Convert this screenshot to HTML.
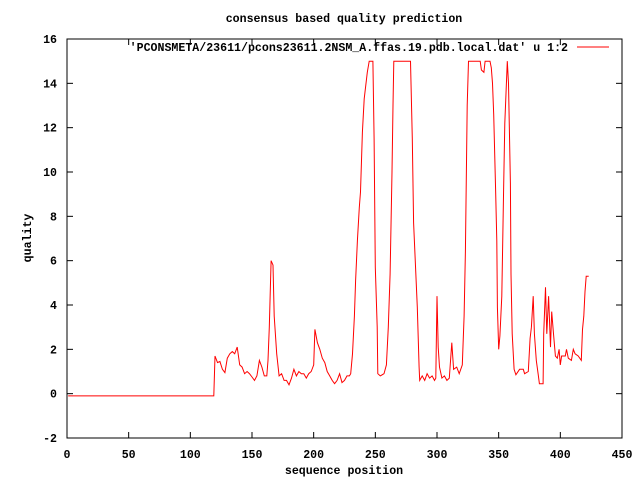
<!DOCTYPE html>
<html><head><meta charset="utf-8"><style>
body{margin:0;background:#fff;}
svg{display:block;font-family:"Liberation Mono",monospace;font-weight:bold;font-size:11.6px;}
</style></head><body>
<svg id="chart" width="640" height="480" viewBox="0 0 640 480" xmlns="http://www.w3.org/2000/svg">
<rect width="640" height="480" fill="#fff"/>
<text x="344" y="22" text-anchor="middle">consensus based quality prediction</text>
<text x="344" y="474" text-anchor="middle">sequence position</text>
<text x="0" y="0" text-anchor="middle" transform="translate(31,238) rotate(-90)">quality</text>
<g id="axes"></g>
<rect x="67" y="39" width="555" height="399" fill="none" stroke="#000" stroke-width="1"/>
<g id="series"></g>
<text x="568" y="51" text-anchor="end">'PCONSMETA/23611/pcons23611.2NSM_A.ffas.19.pdb.local.dat' u 1:2</text>
<line x1="577" y1="47" x2="609" y2="47" stroke="#f00" stroke-width="1"/>
</svg>
<script>
const xTicks=[0,50,100,150,200,250,300,350,400,450];
const yTicks=[-2,0,2,4,6,8,10,12,14,16];
const seqX=[1,119,120,122,124,126,128,130,132,134,136,138,140,142,144,146,148,150,152,154,156,158,160,162,163,164,165.5,167,168,170,172,174,176,178,180,182,184,186,188,190,192,194,196,198,200,201,203,205,207,209,211,213,215,217,219,221,223,225,227,229,230,231.5,233,234,235.5,237,238,239.5,241,243.5,245,248,249,250,251.5,252,254,257,259,260.5,262,263.5,264.3,265,278.5,280,281,284,285.5,286,288,290,292,294,296,298,299,300,301,302,304,306,308,310,312,313.5,316,318,320.5,322,323,324.5,325.5,335,336,338,339,343,344,345,346,347.5,348.5,349,350,351,352.5,354,355,357,358,359.5,360,361,362.5,364,367,370,371,374,375.5,376.5,378,379,380.5,382,383,386,386.5,388,389,390.5,392,393,394.5,396,397.5,399,400,401,404,405,406.5,409,410.5,412,414.5,417,418,419,420,421,423];
const seqY=[-0.1,-0.1,1.7,1.4,1.45,1.1,0.95,1.6,1.8,1.9,1.8,2.1,1.3,1.2,0.9,1.0,0.9,0.75,0.6,0.8,1.5,1.2,0.8,0.8,1.5,3.0,6.0,5.8,3.5,1.8,0.8,0.9,0.6,0.6,0.4,0.7,1.1,0.8,1.0,0.9,0.9,0.7,0.9,1.0,1.3,2.9,2.3,2.0,1.6,1.4,1.0,0.8,0.6,0.45,0.6,0.9,0.5,0.6,0.8,0.8,0.9,1.8,3.5,5.1,6.9,8.4,9.1,11.8,13.3,14.5,15,15,11.5,5.7,3.0,0.9,0.8,0.9,1.3,3.0,5.4,10,13,15,15,11.5,7.7,3.9,1.2,0.6,0.8,0.6,0.9,0.7,0.8,0.6,0.7,4.4,2.1,1.2,0.7,0.8,0.6,0.7,2.3,1.1,1.2,0.9,1.3,3.5,6.4,13,15,15,14.6,14.5,15,15,14.7,14,12.6,9.2,6.9,3.9,2.0,2.6,4.4,9.2,12.2,15,14,9.5,5.4,2.7,1.1,0.85,1.1,1.1,0.9,1.0,2.5,3.0,4.4,2.7,1.5,0.9,0.45,0.45,2.7,4.8,2.7,4.4,2.1,3.7,2.7,1.7,1.6,2.0,1.3,1.7,1.7,2.0,1.6,1.5,2.0,1.8,1.7,1.5,2.9,3.5,4.6,5.3,5.3];
const NS="http://www.w3.org/2000/svg";
const X0=67,X1=622,Y0=438,Y1=39;
function sx(v){return X0+(v-0)/(450-0)*(X1-X0);}
function sy(v){return Y0-(v-(-2))/(16-(-2))*(Y0-Y1);}
const axes=document.getElementById('axes');
function mk(tag,attrs){const e=document.createElementNS(NS,tag);for(const k in attrs)e.setAttribute(k,attrs[k]);return e;}
xTicks.forEach(function(t){
  const x=sx(t);
  const a=mk('line',{x1:x,y1:Y0,x2:x,y2:Y0-6,stroke:'#000'});
  
  
  axes.appendChild(a);
  const b=mk('line',{x1:x,y1:Y1,x2:x,y2:Y1+6,stroke:'#000'});
  
  
  axes.appendChild(b);
  const l=mk('text',{x:x,y:458,'text-anchor':'middle'});
  
  
  l.textContent=t;axes.appendChild(l);
});
yTicks.forEach(function(t){
  const y=sy(t);
  const a=mk('line',{x1:X0,y1:y,x2:X0+6,y2:y,stroke:'#000'});
  
  
  axes.appendChild(a);
  const b=mk('line',{x1:X1,y1:y,x2:X1-6,y2:y,stroke:'#000'});
  
  
  axes.appendChild(b);
  const l=mk('text',{x:57,y:y+4,'text-anchor':'end'});
  
  
  l.textContent=t;axes.appendChild(l);
});
let d='';
seqX.forEach(function(v,i){d+=(i?'L':'M')+sx(v).toFixed(1)+' '+sy(seqY[i]).toFixed(1);});
const p=mk('path',{d:d,fill:'none',stroke:'#f00','stroke-width':1});


document.getElementById('series').appendChild(p);
</script>
</body></html>
